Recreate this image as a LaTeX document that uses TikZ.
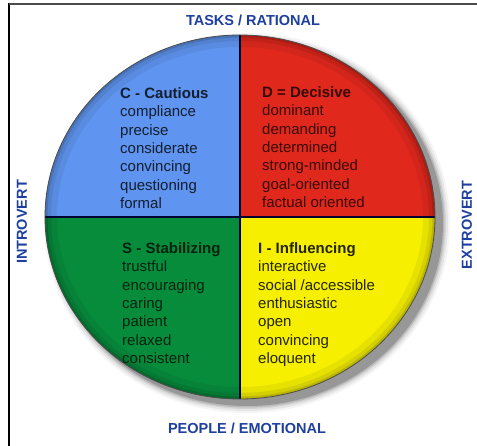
\documentclass[tikz,border=0pt]{standalone}
\usepackage{fontspec}
\setmainfont{Liberation Sans}
\definecolor{qblue}{HTML}{5F95F0}
\definecolor{qred}{HTML}{E0281D}
\definecolor{qgreen}{HTML}{078C3C}
\definecolor{qyellow}{HTML}{F6F000}
\definecolor{lblue}{HTML}{1E3FA0}
\tikzset{
  axislabel/.style={font=\fontsize{14.5}{16}\selectfont\bfseries, text=lblue, inner sep=0pt},
  quadtext/.style={font=\fontsize{15}{18.3}\selectfont, align=left, anchor=north west, inner sep=0pt},
}
\begin{document}
\begin{tikzpicture}[x=1pt,y=-1pt]
\useasboundingbox (0,0) rectangle (477,446);
\fill[white] (0,0) rectangle (477,446);
% frame
\draw[black, line width=2pt] (9,3) -- (9,446);
\draw[black!70, line width=1.5pt] (9,4) -- (477,4);
% shadow
\foreach \w/\o in {16/0.04,12/0.06,8/0.08,5/0.12,2/0.18}{
  \fill[black, opacity=\o] (247,223) ellipse [x radius=195+\w/2, y radius=182+\w/2];
}
% quadrants
\begin{scope}
  \clip (240,217) ellipse [x radius=195, y radius=182];
  \fill[qblue] (40,30) rectangle (240,217);
  \fill[qred] (240,30) rectangle (440,217);
  \fill[qgreen] (40,217) rectangle (240,405);
  \fill[qyellow] (240,217) rectangle (440,405);
  \draw[black, opacity=0.06, line width=24pt] (240,217) ellipse [x radius=195, y radius=182];
  \draw[black, opacity=0.08, line width=12pt] (240,217) ellipse [x radius=195, y radius=182];
  \draw[black, opacity=0.12, line width=5pt] (240,217) ellipse [x radius=195, y radius=182];
  \draw[black!80!blue, line width=1.5pt] (240,30) -- (240,405);
  \draw[black!80!blue, line width=1.5pt] (40,217) -- (440,217);
\end{scope}
\draw[black!70, line width=0.8pt] (240,217) ellipse [x radius=195, y radius=182];
% axis labels
\node[axislabel] (tasks) at (253,20) {TASKS / RATIONAL};
\node[axislabel] (people) at (247,428) {PEOPLE / EMOTIONAL};
\node[axislabel, rotate=90] (intro) at (22,222) {INTROVERT};
\node[axislabel, rotate=90] (extro) at (467,225) {EXTROVERT};
% quadrant texts
\node[quadtext, text=qblue!20!black] (c) at (120,87.6) {\textbf{C - Cautious}\\compliance\\precise\\considerate\\convincing\\questioning\\formal};
\node[quadtext, text=qred!25!black] (d) at (262,86.6) {\textbf{D = Decisive}\\dominant\\demanding\\determined\\strong-minded\\goal-oriented\\factual oriented};
\node[quadtext, text=qgreen!25!black] (s) at (122,242.5) {\textbf{S - Stabilizing}\\trustful\\encouraging\\caring\\patient\\relaxed\\consistent};
\node[quadtext, text=qyellow!15!black] (i) at (258,242.5) {\textbf{I - Influencing}\\interactive\\social /accessible\\enthusiastic\\open\\convincing\\eloquent};
\end{tikzpicture}
\end{document}
